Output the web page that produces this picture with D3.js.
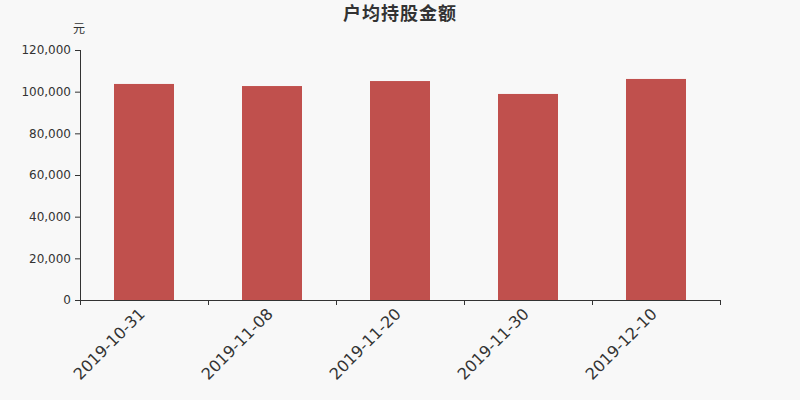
<!DOCTYPE html>
<html>
<head>
<meta charset="utf-8">
<script src="https://cdn.jsdelivr.net/npm/d3@7"></script>
<style>
  body { margin: 0; background: #f8f8f8; }
  svg { display: block; font-family: "DejaVu Sans", sans-serif; }
</style>
</head>
<body>
<script>
var w = 800;
var h = 400;

// data
var dates = ["2019-10-31", "2019-11-08", "2019-11-20", "2019-11-30", "2019-12-10"];
var amounts = [103700, 102700, 105100, 98900, 106100];
var yTicks = [0, 20000, 40000, 60000, 80000, 100000, 120000];

var margin = {top: 50, right: 80, bottom: 100, left: 80};

var svg = d3.select("body")
            .append("svg")
            .attr("width", w)
            .attr("height", h);

svg.append("rect")
   .attr("width", w)
   .attr("height", h)
   .attr("fill", "#f8f8f8");

var x = d3.scaleBand()
          .domain(dates)
          .range([margin.left, w - margin.right])
          .paddingInner(0.53125)
          .paddingOuter(0.265625);

var y = d3.scaleLinear()
          .domain([0, 120000])
          .range([h - margin.bottom, margin.top]);

//title
svg.append("text")
   .attr("x", 400)
   .attr("y", 20)
   .attr("text-anchor", "middle")
   .style("font-family", "'Noto Sans CJK SC', sans-serif")
   .style("font-size", "18px")
   .style("font-weight", "bold")
   .style("letter-spacing", "1px")
   .attr("fill", "#333")
   .text("户均持股金额");

//unit
svg.append("text")
   .attr("x", 79)
   .attr("y", 33)
   .attr("text-anchor", "middle")
   .style("font-family", "'Noto Sans CJK SC', sans-serif")
   .style("font-size", "12px")
   .attr("fill", "#333")
   .text("元");

//bars
svg.selectAll("rect.bar")
   .data(amounts)
   .enter()
   .append("rect")
   .attr("class", "bar")
   .attr("x", function(d, i) { return x(dates[i]); })
   .attr("y", function(d) { return y(d); })
   .attr("width", x.bandwidth())
   .attr("height", function(d) { return y(0) - y(d); })
   .attr("fill", "#c0504d");

//y axis
var yAxis = svg.append("g")
   .attr("transform", "translate(" + margin.left + ",0)")
   .call(d3.axisLeft(y)
           .tickValues(yTicks)
           .tickSize(5)
           .tickPadding(4)
           .tickFormat(d3.format(",")));

yAxis.attr("font-family", "DejaVu Sans")
     .attr("font-size", 12);
yAxis.selectAll("text").attr("fill", "#333");
yAxis.selectAll("line, path").attr("stroke", "#333");
yAxis.select("path").attr("d", "M0.5," + y(0) + "V" + y(120000));

//x axis, boundary ticks between bands
var xAxis = svg.append("g")
   .attr("transform", "translate(0," + y(0) + ")")
   .call(d3.axisBottom(x).tickSize(0).tickPadding(10));

xAxis.attr("font-family", "DejaVu Sans")
     .attr("font-size", 16);

xAxis.select("path")
     .attr("stroke", "#333")
     .attr("d", "M" + margin.left + ",0.5H" + (w - margin.right));

var step = x.step();
var bounds = d3.range(dates.length + 1).map(function(i) { return margin.left + i * step; });
xAxis.selectAll("line.bound")
     .data(bounds)
     .enter()
     .append("line")
     .attr("class", "bound")
     .attr("x1", function(d) { return d + 0.5; })
     .attr("x2", function(d) { return d + 0.5; })
     .attr("y1", 0)
     .attr("y2", 5)
     .attr("stroke", "#333");

xAxis.selectAll(".tick text")
     .attr("fill", "#333")
     .attr("text-anchor", "end")
     .attr("y", 0)
     .attr("dy", "0.35em")
     .attr("transform", "translate(-2,11) rotate(-45)");
</script>
</body>
</html>
